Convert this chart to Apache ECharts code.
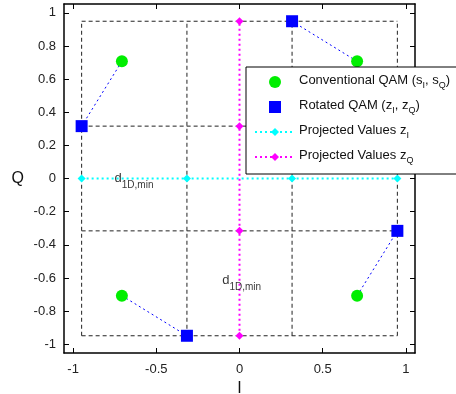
<!DOCTYPE html>
<html><head><meta charset="utf-8">
<script src="https://cdn.jsdelivr.net/npm/echarts@6/dist/echarts.min.js"></script>
<style>html,body{margin:0;padding:0;background:#fff}#c{width:456px;height:394px}</style>
</head><body><div id="c"></div>
<script>
// ---- data ----
const conventionalI = [0.707, -0.707, -0.707, 0.707];
const conventionalQ = [0.707, 0.707, -0.707, -0.707];
const rotatedI = [0.316, -0.949, -0.316, 0.949];
const rotatedQ = [0.949, 0.316, -0.949, -0.316];
const projectedZI = [-0.949, -0.316, 0.316, 0.949];
const projectedZQ = [-0.949, -0.316, 0.316, 0.949];
const gridLevels = [-0.949, -0.316, 0.316, 0.949];
const xTickValues = [-1, -0.5, 0, 0.5, 1];
const yTickValues = [-1, -0.8, -0.6, -0.4, -0.2, 0, 0.2, 0.4, 0.6, 0.8, 1];
const annotations = [[-0.751, -0.015], [-0.104, -0.63]];

const FONT = 'Liberation Sans, Arial, sans-serif';
const chart = echarts.init(document.getElementById('c'), null, {renderer: 'canvas'});
const XR = 1.055, YR = 1.053;

const series = [];
// dashed grid (rectangles)
const gmin = gridLevels[0], gmax = gridLevels[gridLevels.length - 1];
gridLevels.forEach(v => {
  series.push({type: 'line', data: [[gmin, v], [gmax, v]], symbol: 'none', silent: true, z: 1,
    lineStyle: {color: '#222', width: 1, type: [4, 3]}});
  series.push({type: 'line', data: [[v, gmin], [v, gmax]], symbol: 'none', silent: true, z: 1,
    lineStyle: {color: '#222', width: 1, type: [4, 3]}});
});
// connections
conventionalI.forEach((x, i) => {
  series.push({type: 'line', data: [[x, conventionalQ[i]], [rotatedI[i], rotatedQ[i]]], symbol: 'none', z: 2,
    lineStyle: {color: '#0000ff', width: 1, type: [2, 3]}});
});
// projected z_I
series.push({type: 'line', name: 'zI', data: projectedZI.map(v => [v, 0]), symbol: 'diamond', symbolSize: 8,
  itemStyle: {color: '#00ffff', opacity: 1}, lineStyle: {color: '#00ffff', width: 2, type: [2, 3]}, z: 3});
// projected z_Q
series.push({type: 'line', name: 'zQ', data: projectedZQ.map(v => [0, v]), symbol: 'diamond', symbolSize: 8,
  itemStyle: {color: '#ff00ff', opacity: 1}, lineStyle: {color: '#ff00ff', width: 2, type: [2, 3]}, z: 3});
// conventional
series.push({type: 'scatter', data: conventionalI.map((x, i) => [x, conventionalQ[i]]), symbol: 'circle', symbolSize: 12,
  itemStyle: {color: '#00ee00', opacity: 1}, z: 4});
// rotated
series.push({type: 'scatter', data: rotatedI.map((x, i) => [x, rotatedQ[i]]), symbol: 'rect', symbolSize: 12,
  itemStyle: {color: '#0000ff', opacity: 1}, z: 4});
// annotations
series.push({type: 'scatter', data: annotations, symbolSize: 0, z: 5,
  label: {show: true, position: 'right', distance: 0, formatter: '{d|d}{s|1D,min}',
    rich: {d: {fontSize: 13, fontFamily: FONT, color: '#000', verticalAlign: 'top'},
           s: {fontSize: 10, fontFamily: FONT, color: '#000', verticalAlign: 'top', padding: [8, 0, 0, 0]}}}});

const tickStyle = {show: true, inside: true, length: 5, lineStyle: {color: '#000', width: 1}};
const axisLine = {show: true, onZero: false, lineStyle: {color: '#000', width: 1.5}};
const lbl = v => String(+(+v).toFixed(1));

const rich = {
  n: {fontSize: 13, fontFamily: FONT, color: '#111', verticalAlign: 'top'},
  s: {fontSize: 9, fontFamily: FONT, color: '#111', verticalAlign: 'top', padding: [7, 0, 0, 0]}
};
const LX = 246, LT = 67, rows = [82, 107, 132, 157];
const graphic = [
  {type: 'rect', shape: {x: LX, y: LT, width: 230, height: 107}, style: {fill: '#fff', stroke: '#000', lineWidth: 1}, z: 100},
  {type: 'circle', shape: {cx: 275, cy: rows[0], r: 6}, style: {fill: '#00ee00'}, z: 101},
  {type: 'rect', shape: {x: 269, y: rows[1] - 6, width: 12, height: 12}, style: {fill: '#0000ff'}, z: 101},
  {type: 'line', shape: {x1: 255, y1: rows[2], x2: 293, y2: rows[2]}, style: {stroke: '#00ffff', lineWidth: 2, lineDash: [2, 3]}, z: 101},
  {type: 'polygon', shape: {points: [[275, rows[2] - 4], [279, rows[2]], [275, rows[2] + 4], [271, rows[2]]]}, style: {fill: '#00ffff'}, z: 102},
  {type: 'line', shape: {x1: 255, y1: rows[3], x2: 293, y2: rows[3]}, style: {stroke: '#ff00ff', lineWidth: 2, lineDash: [2, 3]}, z: 101},
  {type: 'polygon', shape: {points: [[275, rows[3] - 4], [279, rows[3]], [275, rows[3] + 4], [271, rows[3]]]}, style: {fill: '#ff00ff'}, z: 102},
];
const legendTexts = [
  '{n|Conventional QAM (s}{s|I}{n|, s}{s|Q}{n|)}',
  '{n|Rotated QAM (z}{s|I}{n|, z}{s|Q}{n|)}',
  '{n|Projected Values z}{s|I}',
  '{n|Projected Values z}{s|Q}'
];
legendTexts.forEach((t, i) => {
  graphic.push({type: 'text', x: 299, y: rows[i] - 8, z: 103, style: {text: t, rich: rich, fill: '#111'}});
});

chart.setOption({
  animation: false,
  backgroundColor: '#fff',
  grid: {left: 64, right: 41, top: 4, bottom: 41, containLabel: false, outerBoundsMode: 'none'},
  xAxis: [
    {type: 'value', min: -XR, max: XR, position: 'bottom', axisLine: axisLine,
     axisTick: Object.assign({customValues: xTickValues}, tickStyle),
     axisLabel: {customValues: xTickValues, formatter: lbl, color: '#222', fontSize: 13, fontFamily: FONT, margin: 10},
     splitLine: {show: false},
     name: 'I', nameLocation: 'middle', nameGap: 25, nameTextStyle: {fontSize: 16, fontFamily: FONT, color: '#111'}},
    {type: 'value', min: -XR, max: XR, position: 'top', axisLine: axisLine,
     axisTick: Object.assign({customValues: xTickValues}, tickStyle),
     axisLabel: {show: false}, splitLine: {show: false}}
  ],
  yAxis: [
    {type: 'value', min: -YR, max: YR, position: 'left', axisLine: axisLine,
     axisTick: Object.assign({customValues: yTickValues}, tickStyle),
     axisLabel: {customValues: yTickValues, formatter: lbl, color: '#222', fontSize: 13, fontFamily: FONT, margin: 8},
     splitLine: {show: false},
     name: 'Q', nameLocation: 'middle', nameGap: 40, nameRotate: 0, nameTextStyle: {fontSize: 16, fontFamily: FONT, color: '#111'}},
    {type: 'value', min: -YR, max: YR, position: 'right', axisLine: axisLine,
     axisTick: Object.assign({customValues: yTickValues}, tickStyle),
     axisLabel: {show: false}, splitLine: {show: false}}
  ],
  series: series,
  graphic: graphic
});
</script></body></html>
